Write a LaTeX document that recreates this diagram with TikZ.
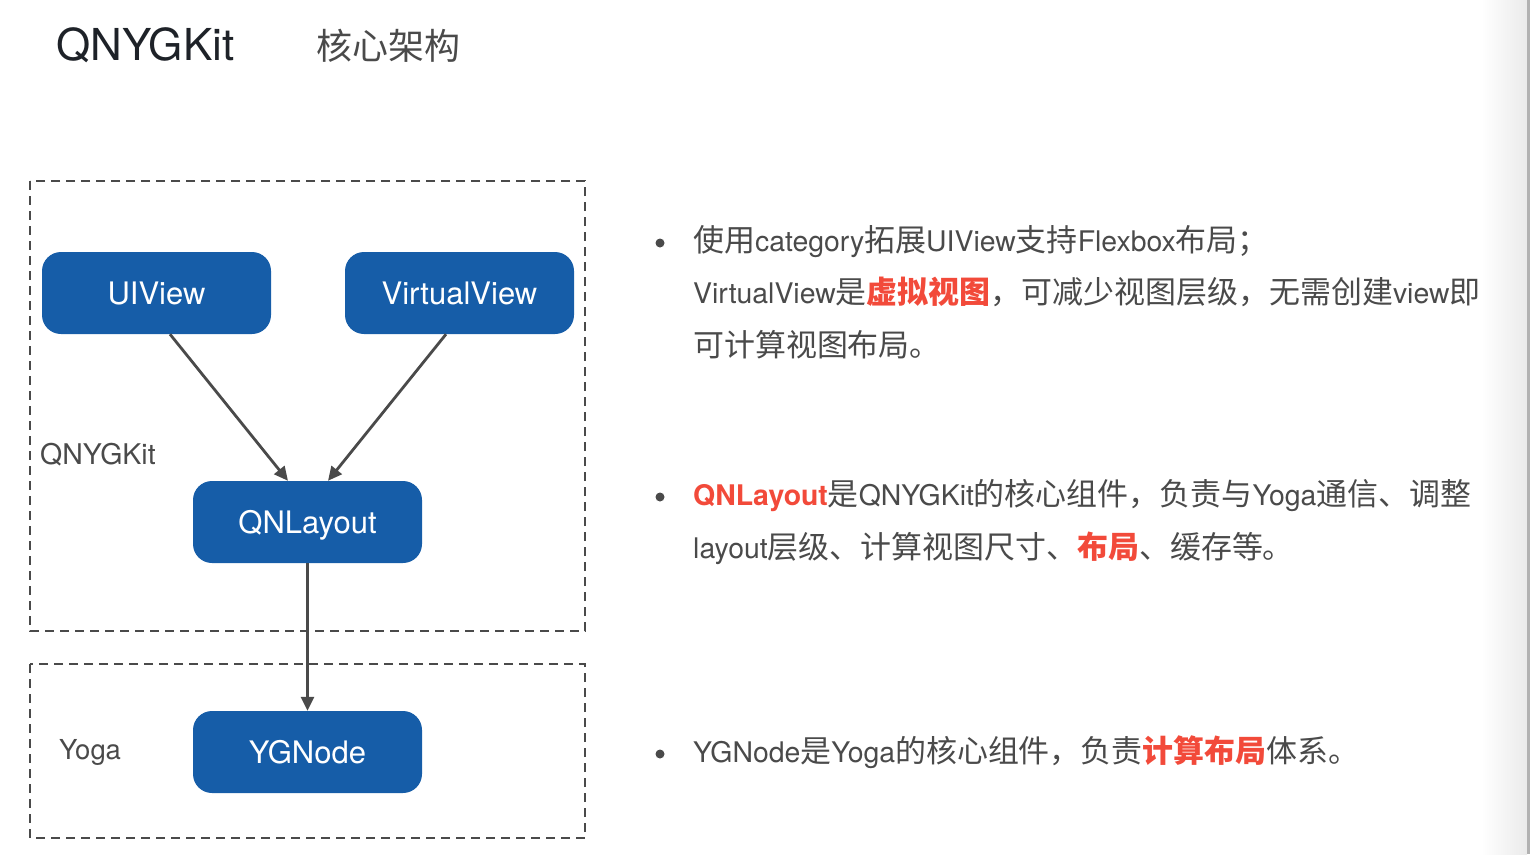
\documentclass[tikz,border=0pt]{standalone}
\usepackage{fontspec}
\setmainfont{TeX Gyre Heros}
\newfontfamily\cjk{Noto Sans CJK SC}[Scale=1.09]
\usetikzlibrary{arrows.meta,positioning}
\definecolor{qnblue}{HTML}{165DA8}
\definecolor{qngray}{HTML}{4A4A4A}
\definecolor{qnred}{HTML}{F24A3A}
\definecolor{qndark}{HTML}{1E2228}
\newcommand{\zh}[1]{{\cjk #1}}
\newcommand{\hot}[1]{{\color{qnred}\bfseries #1}}
\tikzset{
  blockbox/.style={rectangle, rounded corners=19pt, fill=qnblue, text=white,
    minimum width=229pt, minimum height=82pt, inner sep=0pt,
    text height=22pt, text depth=0pt, font=\fontsize{31}{37}\selectfont},
  areabox/.style={draw=qngray, line width=2pt, dash pattern=on 9pt off 6pt},
  arealabel/.style={anchor=west, inner sep=0pt, text=qngray},
  flow/.style={draw=qngray, line width=2.8pt, -{Triangle[length=14pt,width=13pt]}},
  bulletdot/.style={circle, fill=qngray, inner sep=0pt, minimum size=9pt},
  textline/.style={anchor=base west, inner sep=0pt, text=qngray,
    font=\fontsize{28.4}{34}\selectfont}
}
\begin{document}
\begin{tikzpicture}[x=1pt, y=-1pt]
  \useasboundingbox (0,0) rectangle (1530,854);
  % Borda direita
  \shade[left color=white, right color=black!8] (1481,0) rectangle (1527,854);
  \fill[black!30] (1527,0) rectangle (1530,854);
  % Titulo
  \node[anchor=base west, inner sep=0pt, text=qndark, font=\fontsize{44}{52}\selectfont] (title) at (56,60) {QNYGKit};
  \node[anchor=base west, inner sep=0pt, text=qngray, font=\fontsize{33}{40}\selectfont] (subtitle) at (316,59) {\zh{核心架构}};
  % Areas tracejadas
  \draw[areabox] (30,181) rectangle (585,631);
  \draw[areabox] (30,664) rectangle (585,838);
  \node[arealabel, font=\fontsize{28.5}{34}\selectfont] (kitlabel) at (40,455) {QNYGKit};
  \node[arealabel, font=\fontsize{27.5}{32}\selectfont] (yogalabel) at (59,752) {Yoga};
  % Blocos
  \node[blockbox] (uiview) at (156.5,293) {UIView};
  \node[blockbox] (virtualview) at (459.5,293) {VirtualView};
  \node[blockbox] (qnlayout) at (307.5,522) {QNLayout};
  \node[blockbox] (ygnode) at (307.5,752) {YGNode};
  % Setas
  \draw[flow] ([xshift=13.5pt]uiview.south) -- ([xshift=-19.5pt]qnlayout.north);
  \draw[flow] ([xshift=-13.5pt]virtualview.south) -- ([xshift=20.5pt]qnlayout.north);
  \draw[flow] (qnlayout.south) -- (ygnode.north);
  % Descricao
  \node[bulletdot] (dot1) at (660,243) {};
  \node[textline] (line1a) at (693,251) {\zh{使用}category\zh{拓展}UIView\zh{支持}Flexbox\zh{布局；}};
  \node[textline] (line1b) at (693,303) {VirtualView\zh{是}\hot{\zh{虚拟视图}}\zh{，可减少视图层级，无需创建}view\zh{即}};
  \node[textline] (line1c) at (693,356) {\zh{可计算视图布局。}};
  \node[bulletdot] (dot2) at (660,497) {};
  \node[textline] (line2a) at (693,505) {\hot{QNLayout}\zh{是}QNYGKit\zh{的核心组件，负责与}Yoga\zh{通信、调整}};
  \node[textline] (line2b) at (693,558) {layout\zh{层级、计算视图尺寸、}\hot{\zh{布局}}\zh{、缓存等。}};
  \node[bulletdot] (dot3) at (660,754) {};
  \node[textline] (line3a) at (693,762) {YGNode\zh{是}Yoga\zh{的核心组件，负责}\hot{\zh{计算布局}}\zh{体系。}};
\end{tikzpicture}
\end{document}
